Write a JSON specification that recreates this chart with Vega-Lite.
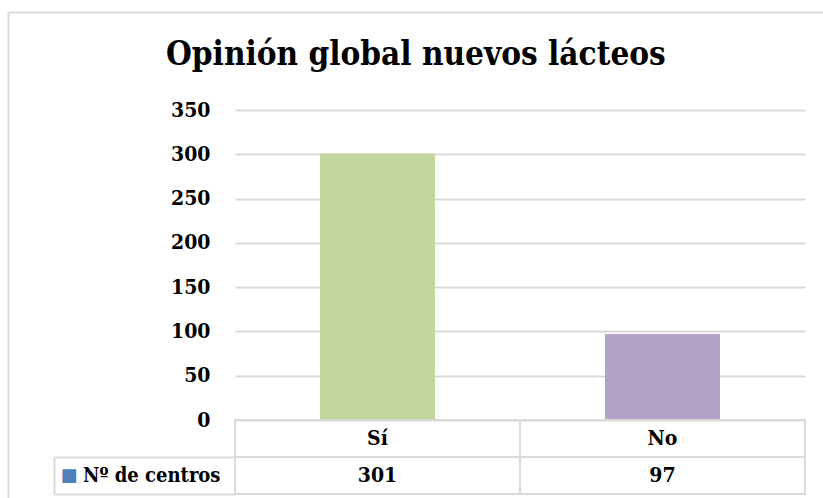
{
  "$schema": "https://vega.github.io/schema/vega-lite/v6.json",
  "autosize": {"type": "none"},
  "padding": {"left": 8, "top": 12, "right": 0, "bottom": 0},
  "width": 815,
  "height": 486,
  "background": "white",
  "config": {
    "view": {"stroke": null},
    "font": "DejaVu Serif Condensed"
  },
  "title": {
    "text": "Opinión global nuevos lácteos",
    "font": "DejaVu Serif Condensed",
    "fontSize": 33,
    "fontWeight": "bold",
    "color": "#000000",
    "anchor": "start",
    "frame": "group",
    "baseline": "alphabetic",
    "offset": -86,
    "dx": 158
  },
  "data": {
    "values": [
      {"respuesta": "Sí", "centros": 301, "serie": "Nº de centros"},
      {"respuesta": "No", "centros": 97, "serie": "Nº de centros"}
    ]
  },
  "layer": [
    {
      "layer": [
        {
          "mark": {"type": "rule", "opacity": 0},
          "encoding": {
            "x": {"field": "respuesta", "type": "nominal", "sort": null,
                  "scale": {"domain": ["Sí", "No"], "range": [0, 815], "paddingInner": 0, "paddingOuter": 0},
                  "axis": {"orient": "top", "offset": 0, "title": null, "labels": false, "ticks": false, "grid": false,
                           "domain": true, "domainColor": "#D9D9D9", "domainWidth": 2}},
            "y": {"field": "serie", "type": "nominal",
                  "scale": {"type": "band", "domain": ["Nº de centros"], "range": [0, 486], "paddingInner": 0, "paddingOuter": 0},
                  "axis": {"orient": "left", "offset": 0, "title": null, "labels": false, "ticks": false, "grid": false,
                           "domain": true, "domainColor": "#D9D9D9", "domainWidth": 2}}
          }
        }
      ]
    },
    {
      "layer": [
        {
          "mark": {"type": "bar", "width": {"band": 0.4035}},
          "encoding": {
            "x": {"field": "respuesta", "type": "nominal", "sort": null,
                  "scale": {"domain": ["Sí", "No"], "range": [227, 797], "paddingInner": 0, "paddingOuter": 0},
                  "axis": null},
            "y": {"field": "centros", "type": "quantitative",
                  "scale": {"domain": [0, 350], "range": [408, 98], "nice": false, "zero": true},
                  "axis": {"orient": "left", "offset": -227, "values": [0, 50, 100, 150, 200, 250, 300, 350],
                           "title": null, "domain": false, "ticks": false, "grid": true,
                           "gridColor": "#D9D9D9", "gridWidth": 2,
                           "labelFont": "DejaVu Serif Condensed", "labelFontSize": 21, "labelFontWeight": "bold",
                           "labelColor": "#000000", "labelPadding": 25}},
            "color": {"field": "respuesta", "type": "nominal",
                      "scale": {"domain": ["Sí", "No"], "range": ["#C3D69B", "#B3A2C7"]}, "legend": null}
          }
        }
      ]
    },
    {
      "layer": [
        {
          "mark": {"type": "rect", "fillOpacity": 0, "stroke": "#D9D9D9", "strokeWidth": 2},
          "encoding": {
            "x": {"field": "respuesta", "type": "nominal", "sort": null,
                  "scale": {"domain": ["Sí", "No"], "range": [227, 797], "paddingInner": 0, "paddingOuter": 0},
                  "axis": null},
            "y": {"datum": "Categoría", "type": "nominal",
                  "scale": {"type": "band", "domain": ["Categoría", "Nº de centros"], "range": [408, 482], "paddingInner": 0, "paddingOuter": 0},
                  "axis": null}
          }
        },
        {
          "mark": {"type": "rect", "fillOpacity": 0, "stroke": "#D9D9D9", "strokeWidth": 2},
          "encoding": {
            "x": {"field": "respuesta", "type": "nominal", "sort": null,
                  "scale": {"domain": ["Sí", "No"], "range": [227, 797], "paddingInner": 0, "paddingOuter": 0},
                  "axis": null},
            "y": {"field": "serie", "type": "nominal",
                  "scale": {"type": "band", "domain": ["Categoría", "Nº de centros"], "range": [408, 482], "paddingInner": 0, "paddingOuter": 0},
                  "axis": null}
          }
        },
        {
          "mark": {"type": "text", "fontSize": 21, "fontWeight": "bold", "color": "#000000", "baseline": "middle", "align": "center", "font": "DejaVu Serif Condensed"},
          "encoding": {
            "x": {"field": "respuesta", "type": "nominal", "sort": null,
                  "scale": {"domain": ["Sí", "No"], "range": [227, 797], "paddingInner": 0, "paddingOuter": 0},
                  "axis": null},
            "y": {"datum": "Categoría", "type": "nominal",
                  "scale": {"type": "band", "domain": ["Categoría", "Nº de centros"], "range": [408, 482], "paddingInner": 0, "paddingOuter": 0},
                  "axis": null},
            "text": {"field": "respuesta", "type": "nominal"}
          }
        },
        {
          "mark": {"type": "text", "fontSize": 21, "fontWeight": "bold", "color": "#000000", "baseline": "middle", "align": "center", "font": "DejaVu Serif Condensed"},
          "encoding": {
            "x": {"field": "respuesta", "type": "nominal", "sort": null,
                  "scale": {"domain": ["Sí", "No"], "range": [227, 797], "paddingInner": 0, "paddingOuter": 0},
                  "axis": null},
            "y": {"field": "serie", "type": "nominal",
                  "scale": {"type": "band", "domain": ["Categoría", "Nº de centros"], "range": [408, 482], "paddingInner": 0, "paddingOuter": 0},
                  "axis": null},
            "text": {"field": "centros", "type": "quantitative"}
          }
        }
      ]
    },
    {
      "layer": [
        {
          "mark": {"type": "rule", "opacity": 0},
          "encoding": {
            "y": {"field": "serie", "type": "nominal",
                  "scale": {"type": "band", "domain": ["Nº de centros"], "range": [445, 482], "paddingInner": 0, "paddingOuter": 0},
                  "axis": {"orient": "left", "offset": -227, "title": null, "domain": false, "ticks": false, "grid": false,
                           "labelFont": "DejaVu Serif Condensed", "labelFontSize": 20, "labelFontWeight": "bold",
                           "labelColor": "#000000", "labelPadding": 15}}
          }
        },
        {
          "mark": {"type": "rule", "opacity": 0},
          "encoding": {
            "y": {"field": "serie", "type": "nominal",
                  "scale": {"type": "band", "domain": ["Nº de centros"], "range": [445, 482], "paddingInner": 0, "paddingOuter": 0},
                  "axis": {"orient": "left", "offset": -227, "title": null, "domain": false, "labels": false, "grid": false,
                           "ticks": true, "tickBand": "extent", "tickSize": 181, "tickColor": "#D9D9D9", "tickWidth": 2}}
          }
        },
        {
          "mark": {"type": "rule", "opacity": 0},
          "encoding": {
            "y": {"field": "serie", "type": "nominal",
                  "scale": {"type": "band", "domain": ["Nº de centros"], "range": [445, 482], "paddingInner": 0, "paddingOuter": 0},
                  "axis": {"orient": "right", "offset": -769, "title": null, "domain": true, "domainColor": "#D9D9D9", "domainWidth": 2,
                           "ticks": false, "grid": false, "labelExpr": "'■'", "labelColor": "#4F81BD",
                           "labelFont": "DejaVu Sans", "labelFontSize": 18, "labelPadding": 6}}
          }
        }
      ],
      "resolve": {"axis": {"y": "independent"}}
    }
  ],
  "resolve": {"scale": {"x": "independent", "y": "independent"}, "axis": {"x": "independent", "y": "independent"}}
}
